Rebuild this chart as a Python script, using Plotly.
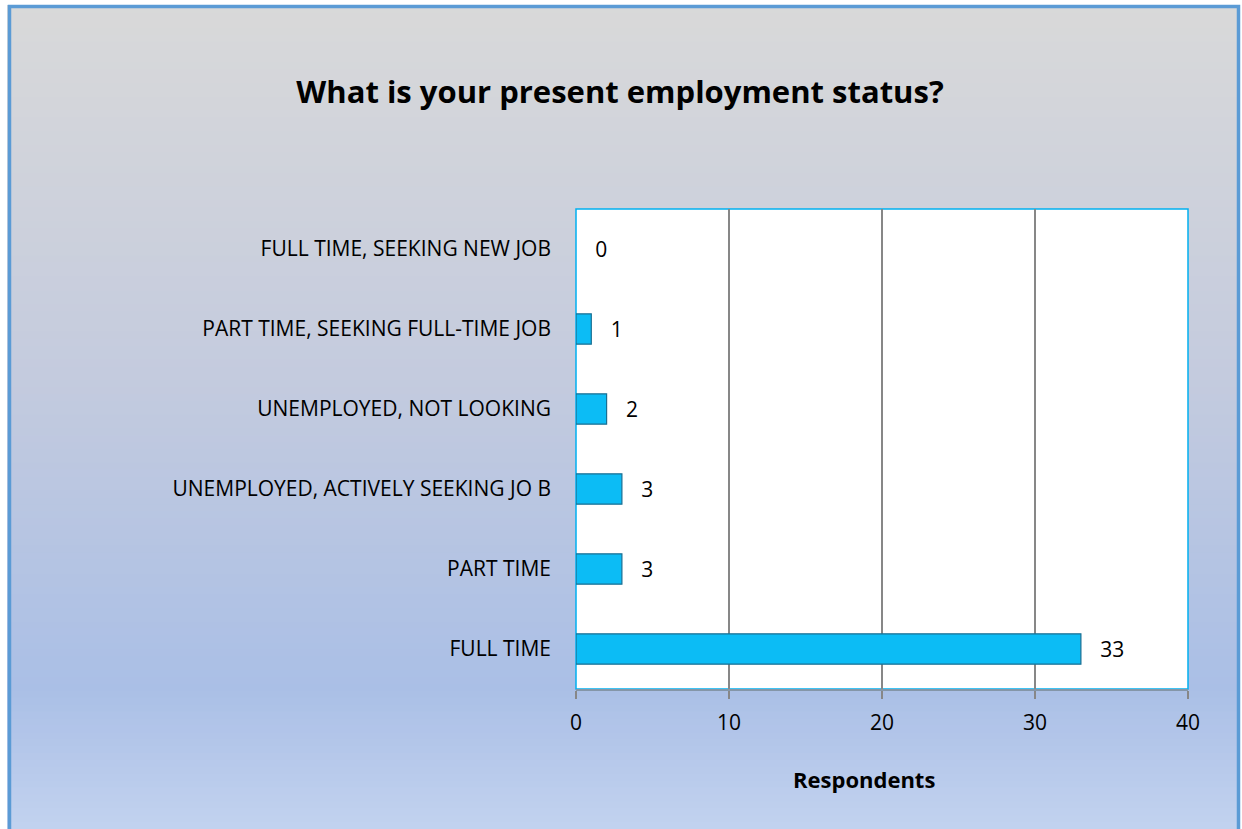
import plotly.graph_objects as go

categories = ["FULL TIME", "PART TIME", "UNEMPLOYED, ACTIVELY SEEKING JO B",
              "UNEMPLOYED, NOT LOOKING", "PART TIME, SEEKING FULL-TIME JOB",
              "FULL TIME, SEEKING NEW JOB"]
values = [33, 3, 3, 2, 1, 0]
x_ticks = [0, 10, 20, 30, 40]

W, H = 1242, 829
px0, px1, py0, py1 = 576, 1188, 209, 689

def lerp(c1, c2, t):
    return tuple(round(a + (b - a) * t) for a, b in zip(c1, c2))

stops = [(0.0, (217, 217, 217)), (0.45, (196, 203, 222)), (0.83, (170, 191, 230)), (1.0, (194, 210, 239))]
shapes = []
N = 120
for i in range(N):
    t = (i + 0.5) / N
    for j in range(len(stops) - 1):
        if stops[j][0] <= t <= stops[j + 1][0]:
            tt = (t - stops[j][0]) / (stops[j + 1][0] - stops[j][0])
            c = lerp(stops[j][1], stops[j + 1][1], tt)
            break
    shapes.append(dict(type="rect", xref="paper", yref="paper", layer="below",
                       x0=0, x1=1, y0=1 - (i + 1) / N - 0.002, y1=1 - i / N,
                       fillcolor="rgb(%d,%d,%d)" % c, line=dict(width=0)))
# white strip outside the frame (top / right / left)
shapes.append(dict(type="rect", xref="paper", yref="paper", layer="below",
                   x0=0, x1=1, y0=1 - 5 / H, y1=1.01, fillcolor="white", line=dict(width=0)))
shapes.append(dict(type="rect", xref="paper", yref="paper", layer="below",
                   x0=1240 / W, x1=1.01, y0=-0.01, y1=1.01, fillcolor="white", line=dict(width=0)))
shapes.append(dict(type="rect", xref="paper", yref="paper", layer="below",
                   x0=-0.01, x1=7 / W, y0=-0.01, y1=1.01, fillcolor="white", line=dict(width=0)))
# outer border
shapes.append(dict(type="rect", xref="paper", yref="paper", layer="above",
                   x0=9.5 / W, x1=1238.5 / W, y0=-0.02, y1=1 - 6.5 / H,
                   line=dict(color="#5b9bd5", width=3.5), fillcolor="rgba(0,0,0,0)"))
# plot area white
shapes.append(dict(type="rect", xref="paper", yref="paper", layer="below",
                   x0=px0 / W, x1=px1 / W, y0=1 - py1 / H, y1=1 - py0 / H,
                   fillcolor="white", line=dict(color="#00b0f0", width=1.5)))

fig = go.Figure()
fig.add_trace(go.Bar(
    y=categories, x=values, orientation="h", width=0.38,
    marker=dict(color="#0cbcf5",
                line=dict(color="#1a6f92", width=[1.2 if v > 0 else 0 for v in values])),
    text=["   " + str(v) for v in values], textposition="outside",
    textfont=dict(size=21, color="black", family="Open Sans, Liberation Sans"),
    cliponaxis=False, hoverinfo="skip",
))

fig.update_layout(
    width=W, height=H,
    margin=dict(l=0, r=0, t=0, b=0, autoexpand=False),
    paper_bgcolor="rgba(0,0,0,0)", plot_bgcolor="rgba(0,0,0,0)",
    shapes=shapes,
    showlegend=False,
    font=dict(family="Open Sans, Liberation Sans", color="black"),
    title=dict(text="<b>What is your present employment status?</b>",
               x=620 / W, xanchor="center", y=1 - 92 / H, yanchor="middle",
               font=dict(size=31, family="Open Sans, Liberation Sans", color="black")),
    xaxis=dict(domain=[px0 / W, px1 / W], range=[0, 40], tickvals=x_ticks,
               showgrid=True, gridcolor="#878787", gridwidth=1.5,
               showline=True, linecolor="#8496a8", linewidth=1.5,
               ticks="outside", ticklen=8, tickcolor="#878787", tickwidth=1.5,
               tickfont=dict(size=21), zeroline=False, automargin=False,
               ticklabelstandoff=6),
    yaxis=dict(domain=[1 - py1 / H, 1 - py0 / H], categoryorder="array",
               categoryarray=categories, showgrid=False, zeroline=False,
               tickfont=dict(size=21), ticks="", ticklabelstandoff=24,
               automargin=False),
    annotations=[dict(text="<b>Respondents</b>", xref="paper", yref="paper",
                      x=864 / W, y=1 - 779 / H, xanchor="center", yanchor="middle",
                      showarrow=False, font=dict(size=22, color="black"))],
)

fig.write_html("out.html", config={"displayModeBar": False},
               post_script="document.body.style.margin='0';document.body.style.overflow='hidden';")
